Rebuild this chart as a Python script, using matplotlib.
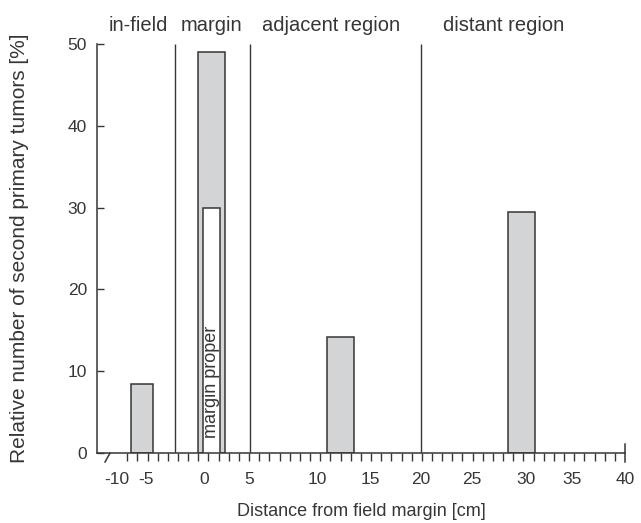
import numpy as np
import matplotlib
matplotlib.use("Agg")
import matplotlib.pyplot as plt

plt.rcParams['font.family'] = ['Liberation Sans', 'DejaVu Sans']
plt.rcParams['axes.unicode_minus'] = False

# data (x in cm from field margin, y in %)
bar_left = [-7.6, -0.5, 10.9, 28.3]
bar_right = [-4.4, 2.26, 13.5, 31.0]
bar_height = [8.4, 49.0, 14.2, 29.5]

proper_left = -0.1
proper_right = 1.8
proper_height = 30.0

region_bounds = [-2.5, 5, 20]
region_names = ['in-field', 'margin', 'adjacent region', 'distant region']
region_label_x = [-6.4, 0.86, 11.3, 27.9]

xtick_vals = [-10, -5, 0, 5, 10, 15, 20, 25, 30, 35, 40]
ytick_vals = [0, 10, 20, 30, 40, 50]

# the original axis is not evenly scaled: where each label sits (relative units)
label_pos = np.array([117, 146, 204, 249.5, 317, 370, 420.5, 472, 526, 572, 625], float)
xv = np.array(xtick_vals, float)
s_lo = (label_pos[1] - label_pos[0]) / (xv[1] - xv[0])
s_hi = (label_pos[-1] - label_pos[-2]) / (xv[-1] - xv[-2])


def fwd(x):
    x = np.asarray(x, float)
    return np.where(x < xv[0], label_pos[0] + (x - xv[0]) * s_lo,
                    np.where(x > xv[-1], label_pos[-1] + (x - xv[-1]) * s_hi,
                             np.interp(x, xv, label_pos)))


def inv(p):
    p = np.asarray(p, float)
    return np.where(p < label_pos[0], xv[0] + (p - label_pos[0]) / s_lo,
                    np.where(p > label_pos[-1], xv[-1] + (p - label_pos[-1]) / s_hi,
                             np.interp(p, label_pos, xv)))


dark = '#363636'
fill = '#d3d4d6'

fig = plt.figure(figsize=(6.41, 5.23), dpi=100)
ax = fig.add_axes([0.1509, 0.1338, 0.8242, 0.7821])
ax.set_xscale('function', functions=(fwd, inv))
ax.set_xlim(-13.5, 40)
ax.set_ylim(0, 50)

for l, r, h in zip(bar_left, bar_right, bar_height):
    ax.bar(l, h, width=r - l, align='edge', color=fill, edgecolor=dark, linewidth=1.1, zorder=2)
ax.bar(proper_left, proper_height, width=proper_right - proper_left, align='edge',
       color='white', edgecolor=dark, linewidth=1.1, zorder=3)
ax.text((proper_left + proper_right) / 2, 1.8, 'margin proper', rotation=90,
        ha='center', va='bottom', fontsize=13, color=dark, zorder=4)

ax.vlines(region_bounds, 0, 50, colors=dark, linewidth=1.0, zorder=1)
for name, xpos in zip(region_names, region_label_x):
    ax.text(xpos, 51.6, name, ha='center', va='baseline', fontsize=14.5,
            color=dark, clip_on=False)

for s in ['top', 'right']:
    ax.spines[s].set_visible(False)
for s in ['left', 'bottom']:
    ax.spines[s].set_color(dark)
    ax.spines[s].set_linewidth(1.1)

# labels at their own spots, tick marks evenly spaced every unit
ax.set_xticks(xtick_vals, [str(v) for v in xtick_vals])
ax.set_xticks(inv(np.linspace(fwd(-10), fwd(40), 51)), minor=True)
ax.tick_params(axis='x', which='major', length=0, pad=13.5, labelsize=12.5, labelcolor=dark)
ax.tick_params(axis='x', which='minor', length=6, width=1.0, direction='out', color=dark)
ax.set_yticks(ytick_vals)
ax.tick_params(axis='y', length=5, width=1.0, direction='in', pad=7, labelsize=12.5,
               color=dark, labelcolor=dark)

# end tick at 40 and axis break mark
ax.plot([40, 40], [-1.1, 1.1], color=dark, linewidth=1.1, clip_on=False)
ax.plot([-12.07, -11.21], [-0.022, 0], color=dark, linewidth=1.1,
        transform=ax.get_xaxis_transform(), clip_on=False)

ax.set_xlabel('Distance from field margin [cm]', fontsize=13, color=dark)
ax.xaxis.set_label_coords(0.5, -0.122)
ax.xaxis.label.set_va('top')
ax.set_ylabel('Relative number of second primary tumors [%]', fontsize=15, color=dark)
ax.yaxis.set_label_coords(-0.128, 0.5)

fig.savefig('out.png', dpi=100)
